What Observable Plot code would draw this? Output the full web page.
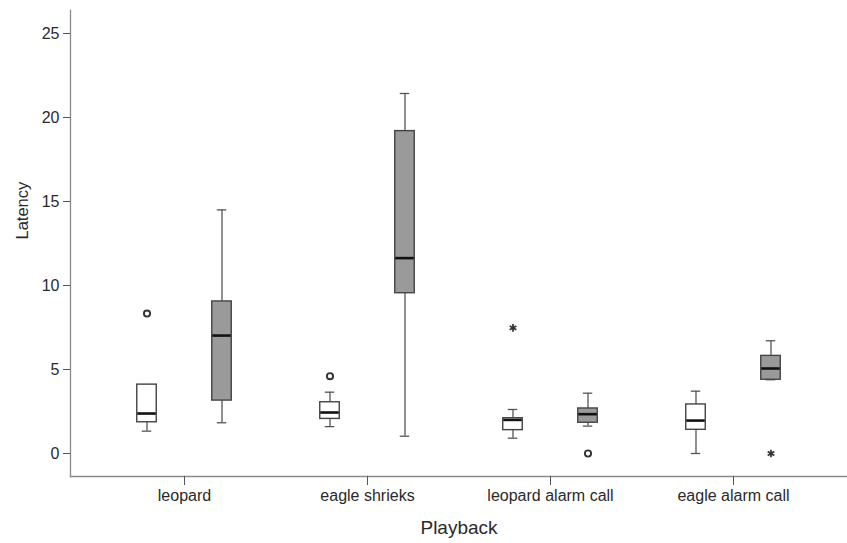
<!DOCTYPE html>
<html>
<head>
<meta charset="utf-8">
<script src="https://cdn.jsdelivr.net/npm/d3@7"></script>
<script src="https://cdn.jsdelivr.net/npm/@observablehq/plot@0.6"></script>
<style>
  html, body { margin: 0; padding: 0; background: #fff; }
  #chart svg { display: block; }
</style>
</head>
<body>
<div id="chart"></div>
<script>
// Categories
const playback = ["leopard", "eagle shrieks", "leopard alarm call", "eagle alarm call"];
const yTicks = [0, 5, 10, 15, 20, 25];

// White boxes (first group)
const whiteLow    = [1.33, 1.60, 0.91, 0.00];
const whiteQ1     = [1.86, 2.06, 1.39, 1.41];
const whiteMedian = [2.38, 2.44, 2.00, 1.96];
const whiteQ3     = [4.10, 3.05, 2.10, 2.92];
const whiteHigh   = [4.10, 3.65, 2.62, 3.71];

// Grey boxes (second group)
const greyLow    = [1.83, 1.03, 1.63, 4.39];
const greyQ1     = [3.15, 9.54, 1.83, 4.39];
const greyMedian = [7.02, 11.63, 2.34, 5.06];
const greyQ3     = [9.05, 19.19, 2.68, 5.81];
const greyHigh   = [14.50, 21.43, 3.59, 6.71];

// Outliers (circle) and extremes (asterisk)
const outlierPlayback = ["leopard", "eagle shrieks", "leopard alarm call", "leopard alarm call", "eagle alarm call"];
const outlierGroup    = ["white", "white", "grey", "white", "grey"];
const outlierValue    = [8.33, 4.60, 0.00, 7.48, 0.00];
const outlierKind     = ["circle", "circle", "circle", "asterisk", "asterisk"];

const rows = (low, q1, med, q3, high) =>
  playback.map((p, i) => ({playback: p, low: low[i], q1: q1[i], median: med[i], q3: q3[i], high: high[i]}));
const whiteRows = rows(whiteLow, whiteQ1, whiteMedian, whiteQ3, whiteHigh);
const greyRows = rows(greyLow, greyQ1, greyMedian, greyQ3, greyHigh);
const outliers = outlierPlayback.map((p, i) => ({playback: p, group: outlierGroup[i], value: outlierValue[i], kind: outlierKind[i]}));

const BW = 92;            // band width
const boxInset = (BW - 19.5) / 2;
const capInset = (BW - 9.5) / 2;
const offset = 37.5;
const boxStroke = "#444";

function groupMarks(data, dx, fill) {
  return [
    Plot.ruleX(data, {x: "playback", y1: "low", y2: "high", dx, stroke: "#555", strokeWidth: 1.3}),
    Plot.tickY(data, {x: "playback", y: "low", dx, insetLeft: capInset, insetRight: capInset, stroke: "#555", strokeWidth: 1.3}),
    Plot.tickY(data, {x: "playback", y: "high", dx, insetLeft: capInset, insetRight: capInset, stroke: "#555", strokeWidth: 1.3}),
    Plot.barY(data, {x: "playback", y1: "q1", y2: "q3", dx, fill, stroke: boxStroke, strokeWidth: 1.4, insetLeft: boxInset, insetRight: boxInset}),
    Plot.tickY(data, {x: "playback", y: "median", dx, insetLeft: boxInset + 0.5, insetRight: boxInset + 0.5, stroke: "#111", strokeWidth: 2.6})
  ];
}

function outlierMarks(kind, group, dx) {
  const d = outliers.filter(o => o.kind === kind && o.group === group);
  return Plot.dot(d, {x: "playback", y: "value", dx, symbol: kind, r: kind === "circle" ? 3.1 : 3.6, stroke: "#333", strokeWidth: kind === "circle" ? 1.9 : 1.7, fill: "none"});
}

const chart = Plot.plot({
  width: 847,
  height: 543,
  marginLeft: 70,
  marginRight: 0,
  marginTop: 10,
  marginBottom: 67,
  style: {fontFamily: "'Liberation Sans', Arial, Helvetica, sans-serif", background: "#fff"},
  x: {type: "band", domain: playback, paddingInner: 0.5, paddingOuter: 0.3615, align: 0.5},
  y: {domain: [-1.369, 26.369]},
  marks: [
    Plot.frame({anchor: "left", stroke: "#8a8a8a", strokeWidth: 1.3}),
    Plot.frame({anchor: "bottom", stroke: "#8a8a8a", strokeWidth: 1.3}),
    Plot.axisY({ticks: yTicks, tickSize: 7, tickPadding: 4, fontSize: 16, stroke: "#555", fill: "#2a2a2a", label: null}),
    Plot.axisX({tickSize: 9, tickPadding: 4, fontSize: 16, stroke: "#555", fill: "#2a2a2a", label: null}),
    Plot.text(["Latency"], {frameAnchor: "left", dx: -48, dy: -4, rotate: -90, fontSize: 16.5, fill: "#2a2a2a"}),
    Plot.text(["Playback"], {frameAnchor: "bottom", dy: 57, fontSize: 19, fill: "#2a2a2a"}),
    ...groupMarks(whiteRows, -offset, "#ffffff"),
    ...groupMarks(greyRows, offset, "#9a9a9a"),
    outlierMarks("circle", "white", -offset),
    outlierMarks("circle", "grey", offset),
    outlierMarks("asterisk", "white", -offset),
    outlierMarks("asterisk", "grey", offset)
  ]
});
document.getElementById("chart").appendChild(chart);
</script>
</body>
</html>
